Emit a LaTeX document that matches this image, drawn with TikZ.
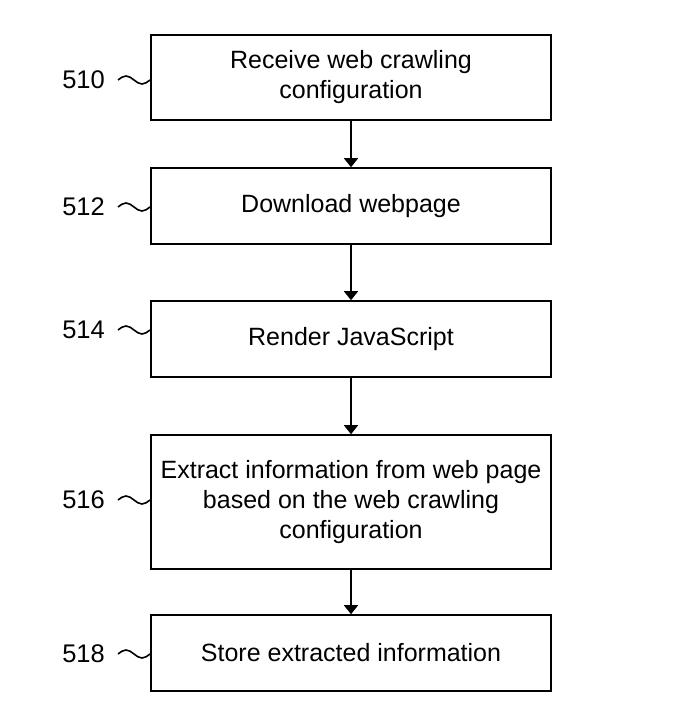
\documentclass[tikz,border=0pt]{standalone}
\usepackage{fontspec}
\setmainfont{Liberation Sans}
\usetikzlibrary{arrows.meta}
\begin{document}
\begin{tikzpicture}[x=1pt,y=-1pt,
  stepbox/.style={draw, line width=1.6pt, minimum width=400pt, inner sep=0pt, align=center,
    font=\fontsize{25}{30}\selectfont},
  reflabel/.style={anchor=east, inner sep=0pt, font=\fontsize{25.5}{28}\selectfont},
  flow/.style={line width=1.6pt, -{Triangle[length=9pt,width=14pt]}},
  squiggle/.style={line width=1.6pt}]
\useasboundingbox (0,0) rectangle (676,715);
\node[stepbox, minimum height=85pt] (b1) at (351,77.5) {Receive web crawling\\configuration};
\node[stepbox, minimum height=76pt] (b2) at (351,206) {Download webpage};
\node[stepbox, minimum height=76pt] (b3) at (351,339) {Render JavaScript};
\node[stepbox, minimum height=134pt] (b4) at (351,502) {Extract information from web page\\based on the web crawling\\configuration};
\node[stepbox, minimum height=76pt] (b5) at (351,653) {Store extracted information};
\node[reflabel] (l1) at (105,80) {510};
\node[reflabel] (l2) at (105,207) {512};
\node[reflabel] (l3) at (105,330) {514};
\node[reflabel] (l4) at (105,500) {516};
\node[reflabel] (l5) at (105,654) {518};
\foreach \i/\y in {1/80,2/207,3/330,4/500,5/654}{
  \coordinate (t\i) at (118,\y);
  \draw[squiggle] (t\i) sin ++(8,-4) cos ++(8,4) sin ++(8,4) cos ++(8,-4);
}
\draw[flow] (b1) -- (b2);
\draw[flow] (b2) -- (b3);
\draw[flow] (b3) -- (b4);
\draw[flow] (b4) -- (b5);
\end{tikzpicture}
\end{document}
